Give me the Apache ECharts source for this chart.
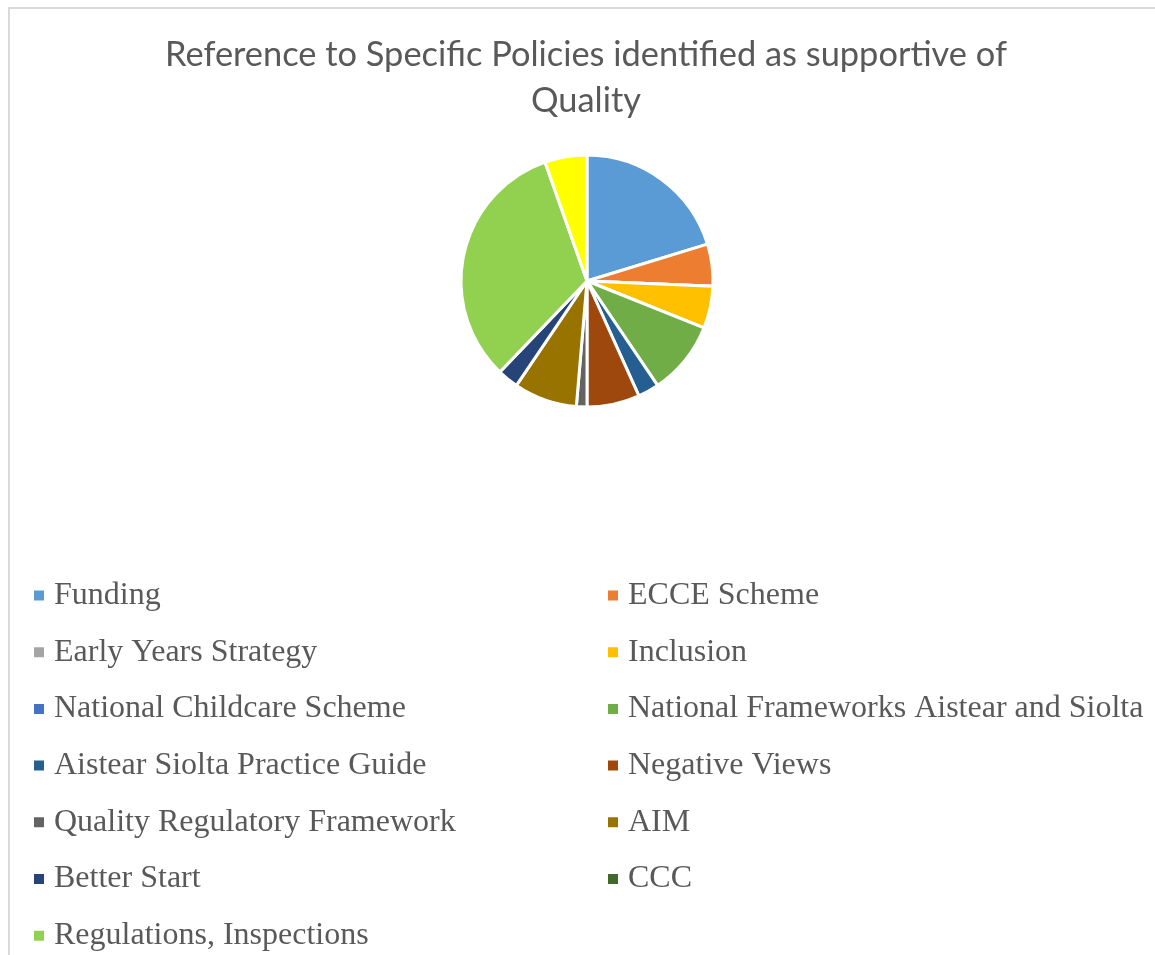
<!DOCTYPE html>
<html>
<head>
<meta charset="utf-8">
<script src="https://cdn.jsdelivr.net/npm/echarts@6/dist/echarts.min.js"></script>
<style>
  html, body { margin: 0; padding: 0; background: #fff; }
  #chart { width: 1155px; height: 955px; }
</style>
</head>
<body>
<div id="chart"></div>
<script>
// Policy categories, in slice order (clockwise from 12 o'clock)
const categories = [
  'Funding', 'ECCE Scheme', 'Early Years Strategy', 'Inclusion',
  'National Childcare Scheme', 'National Frameworks Aistear and Siolta',
  'Aistear Siolta Practice Guide', 'Negative Views',
  'Quality Regulatory Framework', 'AIM', 'Better Start', 'CCC',
  'Regulations, Inspections', 'Other'
];
// Number of references per policy
const counts = [15, 4, 0, 4, 0, 7, 2, 5, 1, 6, 2, 0, 24, 4];
const colors = [
  '#5B9BD5', '#ED7D31', '#A5A5A5', '#FFC000', '#4472C4', '#70AD47',
  '#255E91', '#9E480E', '#636363', '#997300', '#264478', '#43682B',
  '#92D050', '#FFFF00'
];
// Legend shows the first 13 entries in two columns
const legendLeft = categories.filter((c, i) => i < 13 && i % 2 === 0);
const legendRight = categories.filter((c, i) => i < 13 && i % 2 === 1);

const chart = echarts.init(document.getElementById('chart'), null, { renderer: 'canvas' });

const legendText = {
  fontFamily: '"Liberation Serif", "Times New Roman", serif',
  fontSize: 32,
  color: '#595959',
  lineHeight: 34,
  padding: [0, 0, 0, 4]
};
const legendBase = {
  orient: 'vertical',
  top: 578.5,
  itemWidth: 12,
  itemHeight: 12,
  itemGap: 22.7,
  icon: 'rect',
  selectedMode: false,
  textStyle: legendText,
  padding: 0
};

chart.setOption({
  animation: false,
  color: colors,
  title: {
    text: 'Reference to Specific Policies identified as supportive of\nQuality',
    left: 581,
    top: 27,
    textAlign: 'center',
    textStyle: {
      fontFamily: 'Lato, "Open Sans", sans-serif',
      fontWeight: 'normal',
      fontSize: 34.4,
      color: '#595959',
      lineHeight: 46
    }
  },
  graphic: [{
    type: 'rect',
    shape: { x: 9, y: 8, width: 1300, height: 1100 },
    style: { fill: 'none', stroke: '#d9d9d9', lineWidth: 2 },
    silent: true
  }],
  legend: [
    Object.assign({}, legendBase, { left: 32, data: legendLeft }),
    Object.assign({}, legendBase, { left: 606, data: legendRight })
  ],
  series: [{
    type: 'pie',
    center: [587, 281],
    radius: 126,
    startAngle: 90,
    clockwise: true,
    avoidLabelOverlap: false,
    label: { show: false },
    labelLine: { show: false },
    emphasis: { disabled: true },
    itemStyle: { borderColor: '#ffffff', borderWidth: 3 },
    data: categories.map((name, i) => ({ name: name, value: counts[i] }))
  }]
});
</script>
</body>
</html>
